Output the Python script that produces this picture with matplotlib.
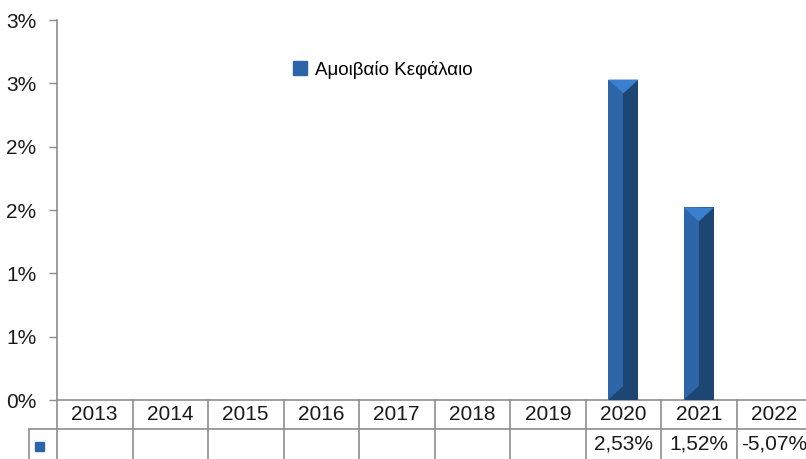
import matplotlib.pyplot as plt
from matplotlib.patches import Polygon, Rectangle
from matplotlib.lines import Line2D

plt.rcParams['font.family'] = ['Liberation Sans', 'DejaVu Sans']

years = ['2013', '2014', '2015', '2016', '2017', '2018', '2019', '2020', '2021', '2022']
fund_values = [None, None, None, None, None, None, None, 2.53, 1.52, -5.07]
series_name = 'Αμοιβαίο Κεφάλαιο'
y_ticks = [0, 0.5, 1, 1.5, 2, 2.5, 3]
y_tick_labels = ['0%', '1%', '1%', '2%', '2%', '3%', '3%']

W, H = 806, 459
fig = plt.figure(figsize=(W / 100, H / 100), dpi=100)
# axes: left edge at 57px, bottom at 400px, top at 20px, columns 75.5px wide
ax = fig.add_axes([57 / W, 1 - 400 / H, 755 / W, 380 / H])

light = '#2C66A8'
dark = '#1E4673'
top_c = '#3A80CF'
grey = '#8E8E8E'
txt = '#1a1a1a'

bw = 0.4
bevel = 0.11
for i, v in enumerate(fund_values):
    if v is None or v <= 0:
        continue
    ax.bar(i, v, width=bw, color=light, zorder=2)
    ax.add_patch(Rectangle((i, 0), bw / 2, v, color=dark, zorder=3, lw=0))
    ax.add_patch(Polygon([(i - bw / 2, v), (i + bw / 2, v), (i, v - bevel)],
                         closed=True, color=top_c, zorder=4, lw=0))
    ax.add_patch(Polygon([(i - bw / 2, 0), (i + bw / 2, 0), (i, bevel)],
                         closed=True, color=dark, zorder=4, lw=0))

ax.set_xlim(-0.5, len(years) - 0.5)
ax.set_ylim(0, 3)
ax.set_yticks(y_ticks)
ax.set_yticklabels(y_tick_labels, fontsize=15, color=txt)
ax.tick_params(axis='y', length=6, width=1, color=grey, pad=9)
ax.set_xticks([])
for s in ['top', 'right']:
    ax.spines[s].set_visible(False)
ax.spines['left'].set_color(grey)
ax.spines['bottom'].set_color(grey)
ax.spines['left'].set_linewidth(1.2)
ax.spines['bottom'].set_linewidth(1.2)

# legend
ax.legend([Rectangle((0, 0), 1, 1, color=light)], [series_name], frameon=False,
          loc='upper left', bbox_to_anchor=(276 / W, 1 - 44 / H),
          bbox_transform=fig.transFigure, handlelength=0.75, handleheight=0.75,
          handletextpad=0.45, fontsize=13.5)

# data table below the axis
def fx(px):
    return px / W

def fy(py):
    return 1 - py / H

col_w = 75.5
x0 = 57
row1_top, row_sep, row2_text, row1_text = 400, 429, 444, 414
for k in range(1, len(years) + 1):
    xl = x0 + k * col_w
    fig.add_artist(Line2D([fx(xl), fx(xl)], [fy(row1_top), fy(H + 5)], color=grey, lw=1.2))
fig.add_artist(Line2D([fx(x0), fx(x0)], [fy(row1_top), fy(H + 5)], color=grey, lw=1.2))
fig.add_artist(Line2D([fx(29), fx(W + 10)], [fy(row_sep), fy(row_sep)], color=grey, lw=1.2))
fig.add_artist(Line2D([fx(29), fx(29)], [fy(row_sep), fy(H + 5)], color=grey, lw=1.2))
fig.add_artist(Rectangle((fx(35), fy(451)), 9 / W, 9 / H, color=light, transform=fig.transFigure))

for k, (yr, v) in enumerate(zip(years, fund_values)):
    cx = x0 + (k + 0.5) * col_w
    fig.text(fx(cx), fy(row1_text), yr, ha='center', va='center', fontsize=15, color=txt)
    if v is not None:
        fig.text(fx(cx), fy(row2_text), f'{v:.2f}%'.replace('.', ','), ha='center',
                 va='center', fontsize=15, color=txt)

fig.savefig('out.png', dpi=100)
